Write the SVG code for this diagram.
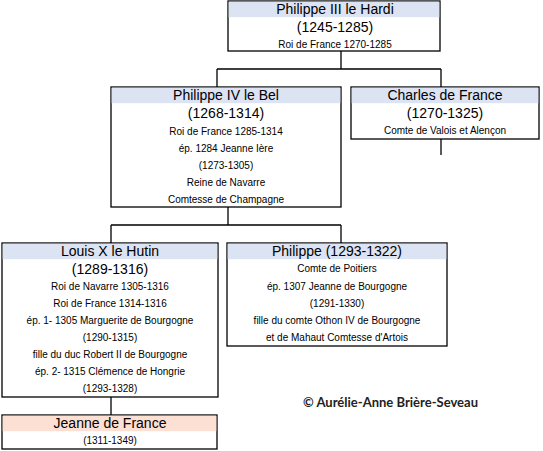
<svg xmlns="http://www.w3.org/2000/svg" width="543" height="451" viewBox="0 0 543 451">
<style>
.box{fill:#fff;stroke:#000;stroke-width:1.3}
.hd{fill:#dce3f2}
.hdp{fill:#fbe0d3}
.t{font-family:"Liberation Sans",Arial,sans-serif;font-size:14px;fill:#000;text-anchor:middle}
.s{font-family:"Liberation Sans",Arial,sans-serif;font-size:10px;fill:#000;text-anchor:middle}
.c{fill:none;stroke:#000;stroke-width:1.3}
.cp{font-family:Lato,"Open Sans",sans-serif;font-size:13px;font-weight:bold;fill:#222}
</style>
<rect width="543" height="451" fill="#fff"/>
<g id="connectors">
<path class="c" d="M341 51V69M217 69H441M217 69V87M441 69V87"/>
<path class="c" d="M441 139V155"/>
<path class="c" d="M228 207V225M111 225H341M111 225V243M341 225V243"/>
<path class="c" d="M111 397V415"/>
</g>
<g id="philippe3">
<rect class="box" x="228" y="1" width="212" height="50"/>
<rect class="hd" x="228.7" y="1.7" width="210.6" height="15.5"/>
<text class="t" x="335" y="14">Philippe III le Hardi</text>
<text class="t" x="335" y="32">(1245-1285)</text>
<text class="s" x="335" y="47.5">Roi de France 1270-1285</text>
</g>
<g id="philippe4">
<rect class="box" x="111" y="87" width="230" height="120"/>
<rect class="hd" x="111.7" y="87.7" width="228.6" height="15.5"/>
<text class="t" x="226" y="100">Philippe IV le Bel</text>
<text class="t" x="226" y="118">(1268-1314)</text>
<text class="s" x="226" y="134.5">Roi de France 1285-1314</text>
<text class="s" x="226" y="151.5">ép. 1284 Jeanne Ière</text>
<text class="s" x="226" y="168.5">(1273-1305)</text>
<text class="s" x="226" y="185.5">Reine de Navarre</text>
<text class="s" x="226" y="202.5">Comtesse de Champagne</text>
</g>
<g id="charles">
<rect class="box" x="351" y="87" width="188" height="52"/>
<rect class="hd" x="351.7" y="87.7" width="186.6" height="15.5"/>
<text class="t" x="445" y="100">Charles de France</text>
<text class="t" x="445" y="118">(1270-1325)</text>
<text class="s" x="445" y="133.5">Comte de Valois et Alençon</text>
</g>
<g id="louis10">
<rect class="box" x="2" y="243" width="216" height="154"/>
<rect class="hd" x="2.7" y="243.7" width="214.6" height="15.5"/>
<text class="t" x="110" y="256">Louis X le Hutin</text>
<text class="t" x="110" y="274">(1289-1316)</text>
<text class="s" x="110" y="289.5">Roi de Navarre 1305-1316</text>
<text class="s" x="110" y="306.5">Roi de France 1314-1316</text>
<text class="s" x="110" y="323.5">ép. 1- 1305 Marguerite de Bourgogne</text>
<text class="s" x="110" y="340.5">(1290-1315)</text>
<text class="s" x="110" y="357.5">fille du duc Robert II de Bourgogne</text>
<text class="s" x="110" y="374.5">ép. 2- 1315 Clémence de Hongrie</text>
<text class="s" x="110" y="391.5">(1293-1328)</text>
</g>
<g id="philippe5">
<rect class="box" x="227" y="243" width="220" height="103"/>
<rect class="hd" x="227.7" y="243.7" width="218.6" height="15.5"/>
<text class="t" x="337" y="256">Philippe (1293-1322)</text>
<text class="s" x="337" y="271.5">Comte de Poitiers</text>
<text class="s" x="337" y="289.5">ép. 1307 Jeanne de Bourgogne</text>
<text class="s" x="337" y="306.5">(1291-1330)</text>
<text class="s" x="337" y="323.5">fille du comte Othon IV de Bourgogne</text>
<text class="s" x="337" y="340.5">et de Mahaut Comtesse d'Artois</text>
</g>
<g id="jeanne">
<rect class="box" x="2" y="415" width="215" height="34"/>
<rect class="hdp" x="2.7" y="415.7" width="213.6" height="15.5"/>
<text class="t" x="110" y="428">Jeanne de France</text>
<text class="s" x="110" y="443.5">(1311-1349)</text>
</g>
<text class="cp" x="303" y="407" textLength="175" lengthAdjust="spacingAndGlyphs">© Aurélie-Anne Brière-Seveau</text>
</svg>
